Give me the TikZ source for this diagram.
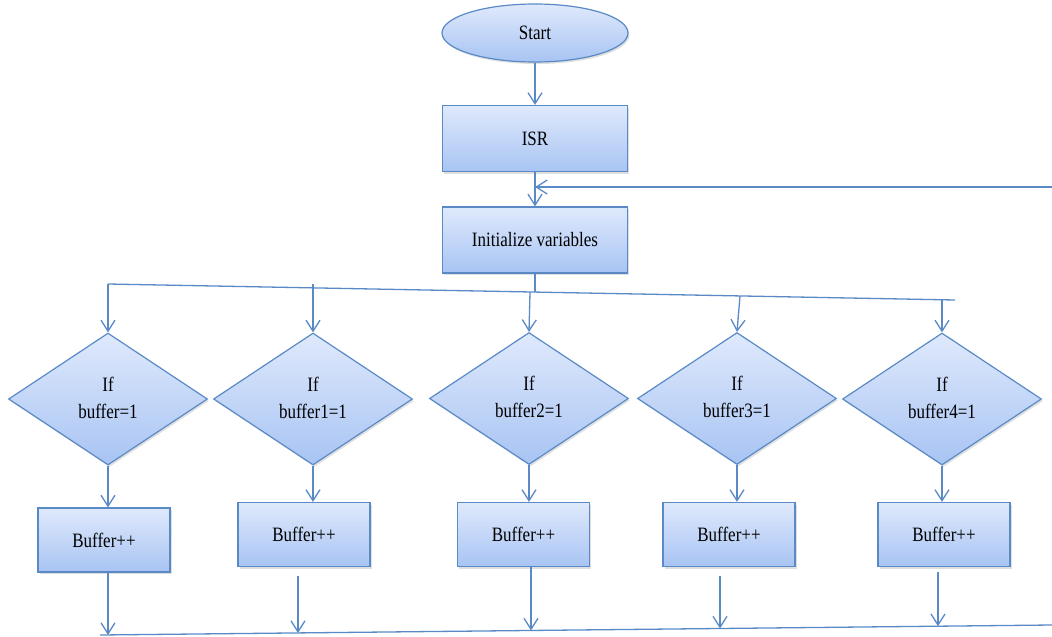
\documentclass[tikz,border=0pt]{standalone}
\usepackage{fontspec}
\usepackage{graphicx}
\setmainfont{Liberation Serif}
\usetikzlibrary{shapes.geometric,arrows.meta,shadows}
\definecolor{edge}{HTML}{5A8AC6}
\definecolor{filltop}{HTML}{DFE9FC}
\definecolor{fillbot}{HTML}{A8C4F3}
% narrow, tall lettering used in every box
\newcommand{\tallword}[1]{\scalebox{1}[1.2]{#1}}
\tikzset{
  base/.style={draw=edge, line width=1.2pt, top color=filltop, bottom color=fillbot,
    font=\fontsize{17}{19}\selectfont, text=black,
    drop shadow={shadow xshift=1.5pt, shadow yshift=-2pt, opacity=0.25}},
  termbox/.style={base, ellipse, minimum width=186pt, minimum height=58pt, inner sep=0pt},
  procbox/.style={base, rectangle, minimum width=185pt, minimum height=66pt},
  incbox/.style={base, rectangle, minimum width=132pt, minimum height=64pt},
  testbox/.style={base, diamond, minimum width=199pt, minimum height=132pt, inner sep=0pt,
    align=center, font=\fontsize{17}{27}\selectfont},
  flow/.style={draw=edge, line width=1.3pt},
  arr/.style={flow, -{Straight Barb[length=11pt, width=14pt, line width=1.3pt]}}
}
\begin{document}
\begin{tikzpicture}[x=1pt, y=-1pt]
\useasboundingbox (0,0) rectangle (1052,637);

% main column
\node[termbox] (start) at (535,33) {\tallword{Start}};
\node[procbox] (isr) at (535,138.5) {\tallword{ISR}};
\node[procbox] (init) at (535,240) {\tallword{Initialize variables}};

% decisions
\node[testbox] (d1) at (108,399) {\raisebox{3pt}{\tallword{If}}\\\raisebox{3pt}{\tallword{buffer=1}}};
\node[testbox] (d2) at (313,399) {\raisebox{3pt}{\tallword{If}}\\\raisebox{3pt}{\tallword{buffer1=1}}};
\node[testbox] (d3) at (529,398.5) {\raisebox{3pt}{\tallword{If}}\\\raisebox{3pt}{\tallword{buffer2=1}}};
\node[testbox] (d4) at (737,398.5) {\raisebox{3pt}{\tallword{If}}\\\raisebox{3pt}{\tallword{buffer3=1}}};
\node[testbox] (d5) at (942,399) {\raisebox{3pt}{\tallword{If}}\\\raisebox{3pt}{\tallword{buffer4=1}}};

% increments
\node[incbox] (b1) at (104,540) {\tallword{Buffer++}};
\node[incbox] (b2) at (304,534.5) {\tallword{Buffer++}};
\node[incbox] (b3) at (523.5,534.5) {\tallword{Buffer++}};
\node[incbox] (b4) at (729,534.5) {\tallword{Buffer++}};
\node[incbox] (b5) at (944,534.5) {\tallword{Buffer++}};

% distribution bus below the initialisation step
\coordinate (busL) at (108,284);
\coordinate (busR) at (955,300);
\coordinate (busM) at (535,292);
\coordinate (t2) at (313,284);
\coordinate (t3) at (530,292);
\coordinate (t4) at (740,296);
\coordinate (t5) at (942,300);

% return path into the loop
\coordinate (loopR) at (1052,187);
\coordinate (loopJ) at (535,187);

% collecting bus at the bottom
\coordinate (endL) at (100,635);
\coordinate (endR) at (1052,625);
\coordinate (e1) at (108,635);
\coordinate (e2) at (298,633);
\coordinate (e3) at (531,630.5);
\coordinate (e4) at (720,628.5);
\coordinate (e5) at (938,626.2);
\coordinate (s2) at (298,576);
\coordinate (s3) at (531,567);
\coordinate (s4) at (720,576);
\coordinate (s5) at (938,572);

% connectors
\draw[arr] (start) -- (isr);
\draw[arr] (isr) -- (init);
\draw[arr] (loopR) -- (loopJ);
\draw[flow] (init) -- (busM);
\draw[flow] (busL) -- (busR);
\draw[arr] (busL) -- (d1.north);
\draw[arr] (t2) -- (d2.north);
\draw[arr] (t3) -- (d3.north);
\draw[arr] (t4) -- (d4.north);
\draw[arr] (t5) -- (d5.north);

\draw[arr] (d1.south) -- (d1.south |- b1.north);
\draw[arr] (d2.south) -- (d2.south |- b2.north);
\draw[arr] (d3.south) -- (d3.south |- b3.north);
\draw[arr] (d4.south) -- (d4.south |- b4.north);
\draw[arr] (d5.south) -- (d5.south |- b5.north);

\draw[arr] (b1.south -| e1) -- (e1);
\draw[arr] (s2) -- (e2);
\draw[arr] (s3) -- (e3);
\draw[arr] (s4) -- (e4);
\draw[arr] (s5) -- (e5);
\draw[flow] (endL) -- (endR);
\end{tikzpicture}
\end{document}
